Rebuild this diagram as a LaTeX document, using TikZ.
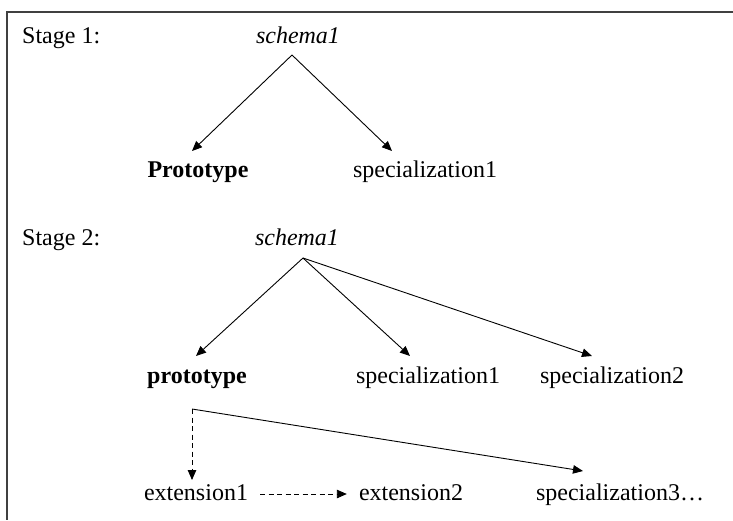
\documentclass[tikz,border=0pt]{standalone}
\usepackage{fontspec}
\setmainfont{Liberation Serif}
\usetikzlibrary{arrows.meta}

\tikzset{
  lbl/.style={anchor=base, inner sep=0pt, font=\fontsize{24}{28}\selectfont},
  arr/.style={-{Triangle[length=10pt,width=8.5pt]}, line width=0.9pt},
  dasharr/.style={arr, dash pattern=on 5pt off 3.5pt},
}

\begin{document}
\begin{tikzpicture}[x=1pt,y=-1pt]
        \useasboundingbox (0,0) rectangle (733,520);
        % Frame (only its top and left edges are in view)
        \draw[line width=1.2pt,black!75] (733,12) -- (7,12) -- (7,520);
        % Stage 1
        \node[lbl,anchor=base west] (stageA) at (22,43) {Stage 1:};
        \node[lbl] (schemaA) at (298,43) {\textit{schema1}};
        \coordinate (topA) at (292,55);
        \node[lbl] (protoA) at (198,177) {\textbf{Prototype}};
        \node[lbl] (specA) at (425,177) {specialization1};
        \draw[arr] (topA) -- ([xshift=-6pt,yshift=26pt]protoA.base);
        \draw[arr] (topA) -- ([xshift=-33pt,yshift=26pt]specA.base);
        % Stage 2
        \node[lbl,anchor=base west] (stageB) at (22,245) {Stage 2:};
        \node[lbl] (schemaB) at (297,245) {\textit{schema1}};
        \coordinate (topB) at (303,258);
        \node[lbl] (protoB) at (197,383) {\textbf{prototype}};
        \node[lbl] (specB) at (428,383) {specialization1};
        \node[lbl] (specC) at (612,383) {specialization2};
        \draw[arr] (topB) -- ([xshift=-1pt,yshift=27pt]protoB.base);
        \draw[arr] (topB) -- ([xshift=-18pt,yshift=27pt]specB.base);
        \draw[arr] (topB) -- ([xshift=-20pt,yshift=27pt]specC.base);
        % Extensions of the prototype
        \node[lbl] (extA) at (196,500) {extension1};
        \node[lbl] (extB) at (411,500) {extension2};
        \node[lbl] (specD) at (620,500) {specialization3…};
        \coordinate (fork) at (192,409);
        \draw[dasharr] (fork) -- ([xshift=-4pt,yshift=20pt]extA.base);
        \draw[arr] (fork) -- ([xshift=-37pt,yshift=29pt]specD.base);
        \draw[dasharr] ([xshift=12pt,yshift=6pt]extA.base east)
            -- ([xshift=-12pt,yshift=6pt]extB.base west);
\end{tikzpicture}
\end{document}
